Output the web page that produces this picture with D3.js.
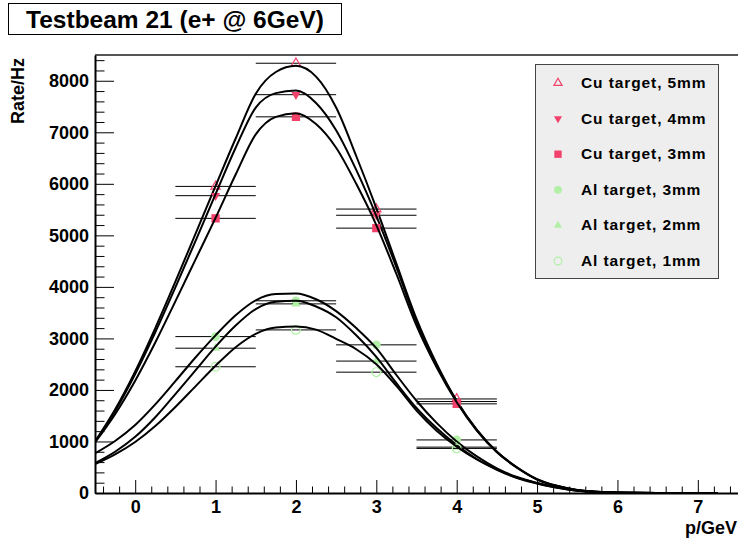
<!DOCTYPE html>
<html>
<head>
<meta charset="utf-8">
<script src="https://cdn.jsdelivr.net/npm/d3@7"></script>
<style>
  body { margin: 0; background: #fff; }
  text { font-family: "Liberation Sans", Arial, sans-serif; font-weight: bold; }
</style>
</head>
<body>
<div id="chart"></div>
<script>
// measured points (x = momentum bins, horizontal error = half bin width)
var pBins = [1, 2, 3, 4]
var binHalfWidth = 0.5

var seriesNames = ['Cu target, 5mm', 'Cu target, 4mm', 'Cu target, 3mm',
                   'Al target, 3mm', 'Al target, 2mm', 'Al target, 1mm']

var cu5Rate = [5950, 8340, 5510, 1825]
var cu4Rate = [5770, 7730, 5390, 1775]
var cu3Rate = [5330, 7300, 5140, 1730]
var al3Rate = [3035, 3730, 2875, 1030]
var al2Rate = [2810, 3670, 2560, 890]
var al1Rate = [2450, 3165, 2345, 865]

// fit curves
var fitX = [-0.5, -0.25, 0, 0.25, 0.5, 0.75, 1, 1.25, 1.5, 1.75, 2, 2.25, 2.5, 2.75,
            3, 3.25, 3.5, 3.75, 4, 4.25, 4.5, 4.75, 5, 5.25, 5.5, 6, 6.5, 7, 7.25]
var cu5Fit = [1000, 1620, 2360, 3200, 4100, 5030, 5960, 6880, 7750, 8170, 8290, 8080, 7480, 6540,
              5530, 4450, 3380, 2510, 1790, 1230, 800, 500, 270, 140, 60, 10, 2, 0, 0]
var cu4Fit = [990, 1590, 2310, 3120, 3990, 4890, 5800, 6700, 7480, 7760, 7810, 7570, 7040, 6270,
              5380, 4380, 3320, 2480, 1780, 1220, 800, 495, 265, 135, 58, 10, 2, 0, 0]
var cu3Fit = [980, 1530, 2180, 2920, 3720, 4530, 5340, 6180, 6960, 7300, 7370, 7160, 6700, 6000,
              5200, 4250, 3250, 2440, 1760, 1210, 790, 490, 260, 130, 55, 10, 2, 0, 0]
var al3Fit = [770, 1010, 1320, 1720, 2170, 2630, 3060, 3450, 3740, 3860, 3870, 3760, 3530, 3200,
              2810, 2290, 1790, 1360, 1000, 710, 480, 310, 195, 110, 50, 8, 1, 0, 0]
var al2Fit = [580, 800, 1090, 1470, 1920, 2380, 2840, 3250, 3570, 3710, 3730, 3620, 3410, 3060,
              2640, 2130, 1650, 1260, 930, 660, 460, 300, 190, 105, 45, 7, 1, 0, 0]
var al1Fit = [560, 750, 990, 1300, 1670, 2070, 2470, 2830, 3090, 3210, 3230, 3170, 2990, 2790,
              2500, 2080, 1600, 1210, 900, 650, 450, 290, 185, 100, 45, 7, 1, 0, 0]

var xMajorTicks = [0, 1, 2, 3, 4, 5, 6, 7]
var yMajorTicks = [0, 1000, 2000, 3000, 4000, 5000, 6000, 7000, 8000]

var CU_COLOR = '#f2426b'
var AL_COLOR = '#b2f0a8'

var series = [
  { name: seriesNames[0], rate: cu5Rate, fit: cu5Fit, color: CU_COLOR, marker: 'triUpOpen' },
  { name: seriesNames[1], rate: cu4Rate, fit: cu4Fit, color: CU_COLOR, marker: 'triDown' },
  { name: seriesNames[2], rate: cu3Rate, fit: cu3Fit, color: CU_COLOR, marker: 'square' },
  { name: seriesNames[3], rate: al3Rate, fit: al3Fit, color: AL_COLOR, marker: 'circle' },
  { name: seriesNames[4], rate: al2Rate, fit: al2Fit, color: AL_COLOR, marker: 'triUp' },
  { name: seriesNames[5], rate: al1Rate, fit: al1Fit, color: AL_COLOR, marker: 'circleOpen' }
]

var width = 738
var height = 542
var plot = { left: 95, right: 738, top: 55, bottom: 493 }

var svg = d3.select('#chart')
  .append('svg')
  .attr('width', width)
  .attr('height', height)

svg.append('rect')
  .attr('width', width)
  .attr('height', height)
  .attr('fill', '#fff')

var x = d3.scaleLinear()
  .domain([-0.5, 7.5])
  .range([plot.left, plot.right])

var y = d3.scaleLinear()
  .domain([0, 8500])
  .range([plot.bottom, plot.top])

svg.append('clipPath')
  .attr('id', 'plot-clip')
  .append('rect')
  .attr('x', plot.left)
  .attr('y', plot.top)
  .attr('width', plot.right - plot.left)
  .attr('height', plot.bottom - plot.top)

// frame top edge
svg.append('line')
  .attr('x1', plot.left)
  .attr('x2', plot.right)
  .attr('y1', plot.top)
  .attr('y2', plot.top)
  .attr('stroke', '#555')
  .attr('stroke-width', 2)

function markerPath (type, size) {
  var s = size
  if (type === 'triUpOpen' || type === 'triUp' || type === 'triDown') {
    return d3.symbol().type(d3.symbolTriangle).size(s * s * 0.45)()
  }
  if (type === 'square') {
    return d3.symbol().type(d3.symbolSquare).size(s * s * 0.85)()
  }
  return d3.symbol().type(d3.symbolCircle).size(s * s * 0.75)()
}

function drawMarker (g, type, color, cx, cy, size) {
  var open = type === 'triUpOpen' || type === 'circleOpen'
  g.append('path')
    .attr('d', markerPath(type, size))
    .attr('transform', 'translate(' + cx + ',' + cy + ')' + (type === 'triDown' ? ' rotate(180)' : ''))
    .attr('fill', open ? 'none' : color)
    .attr('stroke', open ? color : 'none')
    .attr('stroke-width', 1.2)
}

var line = d3.line()
  .x(d => x(d[0]))
  .y(d => y(d[1]))
  .curve(d3.curveMonotoneX)

var graph = svg.append('g').attr('clip-path', 'url(#plot-clip)')

series.forEach(function (s) {
  // horizontal error bars
  graph.selectAll(null)
    .data(pBins)
    .enter()
    .append('line')
    .attr('x1', d => x(d - binHalfWidth))
    .attr('x2', d => x(d + binHalfWidth))
    .attr('y1', (d, i) => y(s.rate[i]))
    .attr('y2', (d, i) => y(s.rate[i]))
    .attr('stroke', '#000')
    .attr('stroke-width', 1)

  pBins.forEach(function (p, i) {
    drawMarker(graph, s.marker, s.color, x(p), y(s.rate[i]), 9)
  })

  graph.append('path')
    .datum(fitX.map((v, i) => [v, s.fit[i]]))
    .attr('d', line)
    .attr('fill', 'none')
    .attr('stroke', '#000')
    .attr('stroke-width', 2)
})

// x axis
var xMinor = d3.range(-0.4, 7.5, 0.2).filter(v => Math.abs(v - Math.round(v)) > 0.01)

svg.append('g')
  .attr('transform', 'translate(0,' + plot.bottom + ')')
  .call(d3.axisBottom(x).tickValues(xMinor).tickSize(-6.5).tickSizeOuter(0).tickFormat(''))
  .call(g => g.select('.domain').remove())

svg.append('g')
  .attr('transform', 'translate(0,' + plot.bottom + ')')
  .call(d3.axisBottom(x).tickValues(xMajorTicks).tickSize(-13).tickSizeOuter(0).tickPadding(7))
  .call(g => g.select('.domain').attr('stroke-width', 2))
  .call(g => g.selectAll('text').attr('font-size', 18).attr('fill', '#000'))

// y axis
var yMinor = d3.range(200, 8500, 200).filter(v => v % 1000 !== 0)

svg.append('g')
  .attr('transform', 'translate(' + plot.left + ',0)')
  .call(d3.axisLeft(y).tickValues(yMinor).tickSize(-9.5).tickSizeOuter(0).tickFormat(''))
  .call(g => g.select('.domain').remove())

svg.append('g')
  .attr('transform', 'translate(' + plot.left + ',0)')
  .call(d3.axisLeft(y).tickValues(yMajorTicks).tickSize(-19).tickSizeOuter(0).tickPadding(6).tickFormat(d3.format('d')))
  .call(g => g.select('.domain').attr('stroke-width', 2))
  .call(g => g.selectAll('text').attr('font-size', 18).attr('fill', '#000'))

// axis titles
svg.append('text')
  .attr('transform', 'translate(24,58) rotate(-90)')
  .attr('text-anchor', 'end')
  .attr('font-size', 18)
  .text('Rate/Hz')

svg.append('text')
  .attr('x', 737)
  .attr('y', 534)
  .attr('text-anchor', 'end')
  .attr('font-size', 18)
  .text('p/GeV')

// title
svg.append('rect')
  .attr('x', 8.5)
  .attr('y', 3.5)
  .attr('width', 333)
  .attr('height', 31)
  .attr('fill', '#fff')
  .attr('stroke', '#000')

svg.append('text')
  .attr('x', 175)
  .attr('y', 28)
  .attr('text-anchor', 'middle')
  .attr('font-size', 24.5)
  .text('Testbeam 21 (e+ @ 6GeV)')

// legend
var legend = svg.append('g')

legend.append('rect')
  .attr('x', 535.5)
  .attr('y', 64.5)
  .attr('width', 183)
  .attr('height', 214)
  .attr('fill', '#eeeeee')
  .attr('stroke', '#444')

series.forEach(function (s, i) {
  var rowY = 83 + i * 35.6
  drawMarker(legend, s.marker, s.color, 558, rowY, 8)
  legend.append('text')
    .attr('x', 581)
    .attr('y', rowY + 5)
    .attr('font-size', 15.5)
    .attr('letter-spacing', 0.9)
    .text(s.name)
})
</script>
</body>
</html>
